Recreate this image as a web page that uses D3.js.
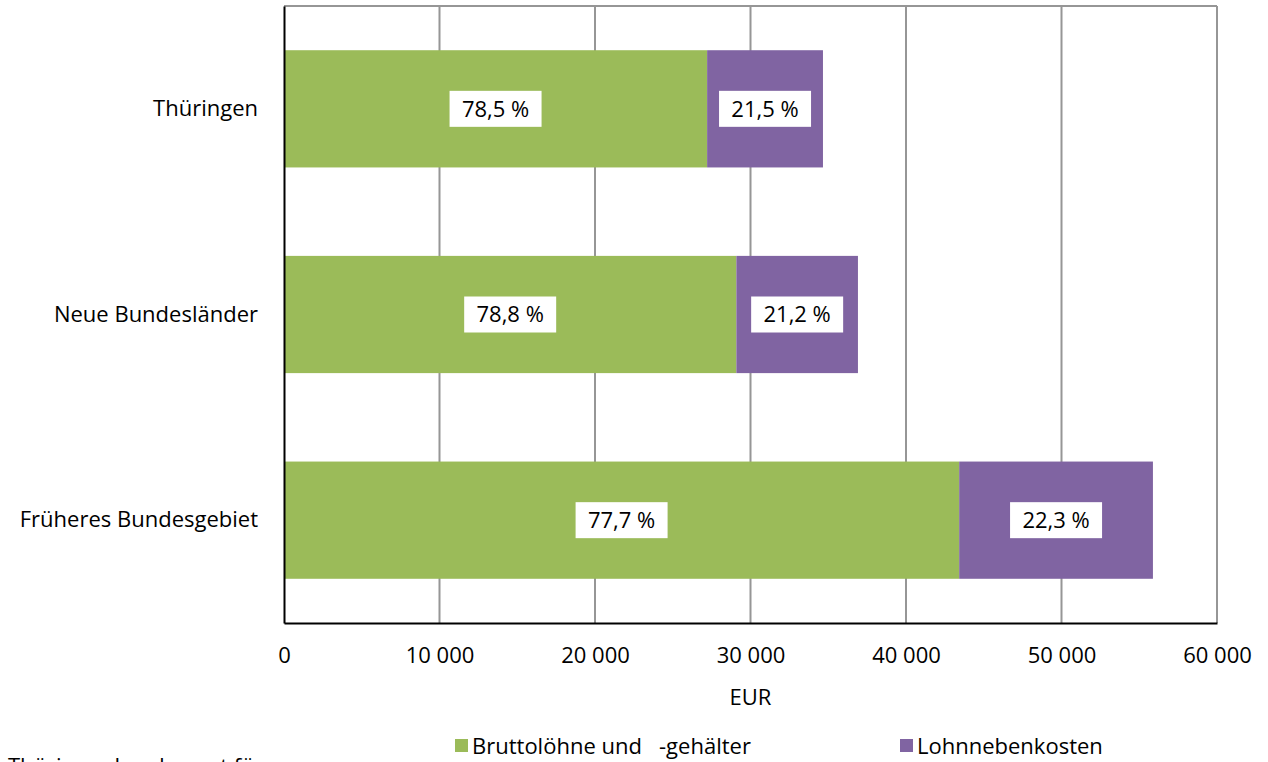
<!DOCTYPE html>
<html lang="de">
<head>
  <meta charset="UTF-8">
  <title>Arbeitskosten</title>
  <script src="https://d3js.org/d3.v7.min.js"></script>
  <style>
    body { margin: 0; background: #fff; }
    svg { display: block; }
    svg text { font-family: "Open Sans", sans-serif; fill: #000; }
    .grid line { stroke: #969696; stroke-width: 2px; }
    .tick text { font-size: 22px; }
  </style>
</head>
<body>
  <svg id="chart" width="1268" height="762"></svg>

  <script>
    // Werte (EUR je Arbeitnehmer)
    const regions = ["Thüringen", "Neue Bundesländer", "Früheres Bundesgebiet"];
    const brutto = [27210, 29090, 43420];
    const nebenkosten = [7450, 7820, 12460];
    const bruttoShare = ["78,5 %", "78,8 %", "77,7 %"];
    const nebenShare = ["21,5 %", "21,2 %", "22,3 %"];
    const xTicks = [0, 10000, 20000, 30000, 40000, 50000, 60000];
    const seriesNames = ["Bruttolöhne und   -gehälter", "Lohnnebenkosten"];
    const colors = ["#9bbb59", "#8064a2"];

    const width = 1268;
    const height = 762;
    const margin = { top: 6, right: 51, bottom: 139, left: 284 };

    const svg = d3.select("#chart");

    const x = d3.scaleLinear()
      .domain([0, 60000])
      .range([margin.left, width - margin.right]);

    const y = d3.scaleBand()
      .domain(regions)
      .range([margin.top, height - margin.bottom])
      .paddingInner(0.43)
      .paddingOuter(0.215);

    const fmt = v => d3.format(",")(v).replace(/,/g, " ");

    // Gitternetz
    svg.append("g")
      .attr("class", "grid")
      .selectAll("line")
      .data(xTicks.slice(1))
      .join("line")
      .attr("x1", d => x(d)).attr("x2", d => x(d))
      .attr("y1", margin.top).attr("y2", height - margin.bottom);

    // oberer Rand
    svg.append("line")
      .attr("x1", margin.left).attr("x2", width - margin.right)
      .attr("y1", margin.top).attr("y2", margin.top)
      .attr("stroke", "#969696").attr("stroke-width", 2);

    const rows = regions.map((r, i) => ({
      region: r,
      parts: [
        { start: 0, end: brutto[i], label: bruttoShare[i], color: colors[0] },
        { start: brutto[i], end: brutto[i] + nebenkosten[i], label: nebenShare[i], color: colors[1] }
      ]
    }));

    const segs = svg.append("g")
      .selectAll("g")
      .data(rows)
      .join("g")
      .selectAll("g")
      .data(d => d.parts.map(p => ({ ...p, region: d.region })))
      .join("g");

    segs.append("rect")
      .attr("x", d => x(d.start))
      .attr("width", d => x(d.end) - x(d.start))
      .attr("y", d => y(d.region))
      .attr("height", y.bandwidth())
      .attr("fill", d => d.color);

    const cx = d => (x(d.start) + x(d.end)) / 2;
    const cy = d => y(d.region) + y.bandwidth() / 2;

    segs.append("rect")
      .attr("x", d => cx(d) - 46)
      .attr("y", d => cy(d) - 18)
      .attr("width", 92)
      .attr("height", 36)
      .attr("fill", "#fff");

    segs.append("text")
      .attr("x", cx)
      .attr("y", cy)
      .attr("dy", "0.36em")
      .attr("text-anchor", "middle")
      .attr("font-size", 22)
      .text(d => d.label);

    // Achsen
    const xAxis = svg.append("g")
      .attr("transform", `translate(0, ${height - margin.bottom})`)
      .call(d3.axisBottom(x).tickValues(xTicks).tickFormat(fmt).tickSize(0).tickPadding(24));
    xAxis.select(".domain").attr("stroke", "#000").attr("stroke-width", 2);

    const yAxis = svg.append("g")
      .attr("transform", `translate(${margin.left}, 0)`)
      .call(d3.axisLeft(y).tickSize(0).tickPadding(26));
    yAxis.select(".domain").attr("stroke", "#000").attr("stroke-width", 2);

    svg.append("text")
      .attr("x", x(30000))
      .attr("y", 705)
      .attr("text-anchor", "middle")
      .attr("font-size", 22)
      .text("EUR");

    // Legende
    const legendX = [455, 900];
    const legend = svg.append("g")
      .selectAll("g")
      .data(seriesNames)
      .join("g")
      .attr("transform", (d, i) => `translate(${legendX[i]}, 746)`);
    legend.append("rect")
      .attr("x", 0).attr("y", -7)
      .attr("width", 13).attr("height", 13)
      .attr("fill", (d, i) => colors[i]);
    legend.append("text")
      .attr("x", 17)
      .attr("dy", "0.36em")
      .attr("font-size", 22)
      .style("white-space", "pre")
      .text(d => d);

    // abgeschnittene Quellenangabe (im Original am unteren Rand angeschnitten)
    svg.append("text")
      .attr("x", 8)
      .attr("y", 774)
      .attr("font-size", 22)
      .text("Thüringer Landesamt für");
  </script>
</body>
</html>
